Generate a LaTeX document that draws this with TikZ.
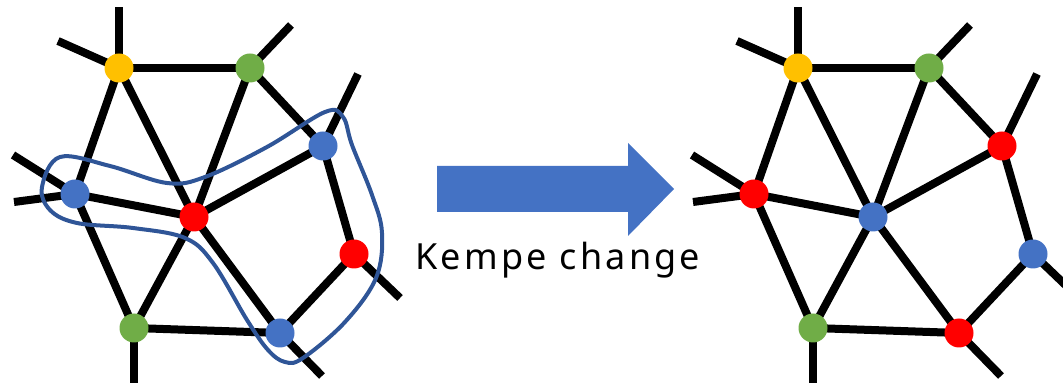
\documentclass[tikz,border=0pt]{standalone}
\usepackage{fontspec}
\newfontfamily\labelfont[LetterSpace=9]{Noto Sans}
\usetikzlibrary{backgrounds}
\definecolor{cyel}{HTML}{FFC000}
\definecolor{cgrn}{HTML}{70AD47}
\definecolor{cblu}{HTML}{4472C4}
\definecolor{cred}{HTML}{FF0000}
\definecolor{cchain}{HTML}{2F5597}
\newcommand\kgraph[6]{%
  \node[vtx,fill=cyel] (#1Y)  at (119,68) {};
  \node[vtx,fill=cgrn] (#1G1) at (250,68) {};
  \node[vtx,fill=#2]   (#1B1) at (323,146) {};
  \node[vtx,fill=#3]   (#1B2) at (75,194) {};
  \node[vtx,fill=#4]   (#1R1) at (194,217) {};
  \node[vtx,fill=#5]   (#1R2) at (354,254) {};
  \node[vtx,fill=cgrn] (#1G2) at (134,328) {};
  \node[vtx,fill=#6]   (#1B3) at (280,333) {};
  \coordinate (#1sYa) at (119,7);
  \coordinate (#1sYb) at (58,41);
  \coordinate (#1sG1) at (291,25);
  \coordinate (#1sB1) at (358,74);
  \coordinate (#1sB2a) at (13,155);
  \coordinate (#1sB2b) at (14,202);
  \coordinate (#1sR2) at (400,298);
  \coordinate (#1sG2) at (134,390);
  \coordinate (#1sB3) at (322,376);
  \begin{scope}[on background layer]
    \draw[edge] (#1Y.center) -- (#1G1.center);
    \draw[edge] (#1Y.center) -- (#1B2.center);
    \draw[edge] (#1Y.center) -- (#1R1.center);
    \draw[edge] (#1G1.center) -- (#1R1.center);
    \draw[edge] (#1G1.center) -- (#1B1.center);
    \draw[edge] (#1B1.center) -- (#1R1.center);
    \draw[edge] (#1B1.center) -- (#1R2.center);
    \draw[edge] (#1B2.center) -- (#1R1.center);
    \draw[edge] (#1B2.center) -- (#1G2.center);
    \draw[edge] (#1R1.center) -- (#1G2.center);
    \draw[edge] (#1R1.center) -- (#1B3.center);
    \draw[edge] (#1G2.center) -- (#1B3.center);
    \draw[edge] (#1B3.center) -- (#1R2.center);
    \draw[edge] (#1Y.center) -- (#1sYa);
    \draw[edge] (#1Y.center) -- (#1sYb);
    \draw[edge] (#1G1.center) -- (#1sG1);
    \draw[edge] (#1B1.center) -- (#1sB1);
    \draw[edge] (#1B2.center) -- (#1sB2a);
    \draw[edge] (#1B2.center) -- (#1sB2b);
    \draw[edge] (#1R2.center) -- (#1sR2);
    \draw[edge] (#1G2.center) -- (#1sG2);
    \draw[edge] (#1B3.center) -- (#1sB3);
  \end{scope}
}
\begin{document}
\begin{tikzpicture}[x=0.5pt,y=-0.5pt,
  vtx/.style={circle,inner sep=0pt,minimum size=14.5pt,draw=none},
  edge/.style={line width=4pt,black},
  kchain/.style={line width=2pt,cchain},
  bigarrow/.style={fill=cblu,draw=none}]
\useasboundingbox (0,0) rectangle (1063,383);
\clip (0,0) rectangle (1063,383);
\kgraph{l}{cblu}{cblu}{cred}{cred}{cblu}
\begin{scope}[xshift=339.5pt]
\kgraph{r}{cred}{cred}{cblu}{cblu}{cred}
\end{scope}
\draw[kchain] plot[smooth cycle, tension=0.6] coordinates {
 (42,187) (60,157) (110,166) (167,183) (205,177) (267,147) (325,112)
 (343,117) (352,145) (372,195) (382,233) (376,278) (345,322) (303,358)
 (285,362) (268,350) (247,320) (213,263) (185,238) (133,228) (77,223) (50,210)};
\fill[bigarrow] (437,166) -- (628,166) -- (628,143) -- (674,189) -- (628,236) -- (628,212) -- (437,212) -- cycle;
\node[anchor=base west,inner sep=0pt,font=\labelfont\fontsize{18}{20}\selectfont] (lbl) at (415,270) {Kempe change};
\end{tikzpicture}
\end{document}
